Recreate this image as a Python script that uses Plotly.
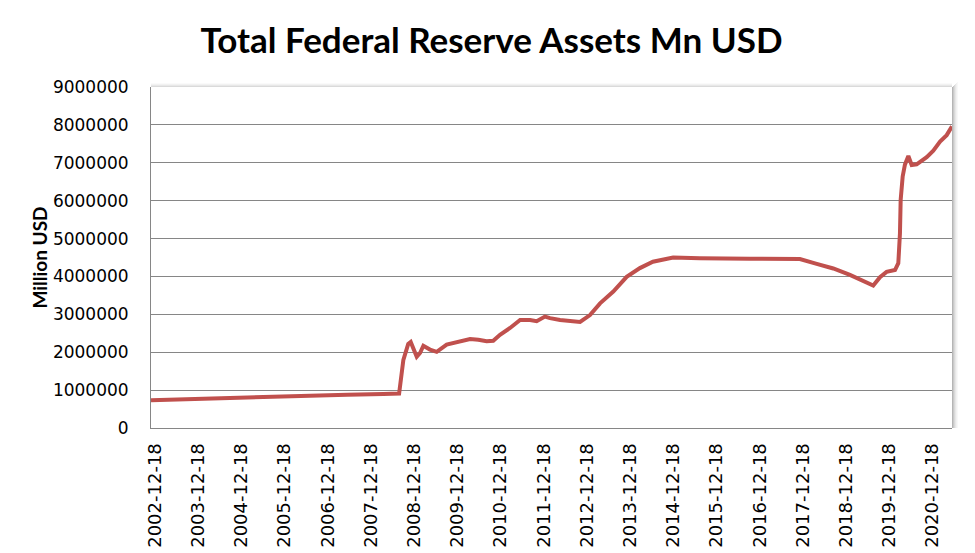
import plotly.graph_objects as go

# Weekly total assets of the Federal Reserve (USD millions)
dates = [
    "2002-11-14", "2003-08-01", "2004-10-01", "2005-12-01", "2006-09-01",
    "2007-06-01", "2008-04-01", "2008-08-12", "2008-09-17", "2008-10-28",
    "2008-11-18", "2009-01-08", "2009-02-05", "2009-03-05", "2009-04-30",
    "2009-06-26", "2009-09-18", "2009-12-12", "2010-04-04", "2010-06-13",
    "2010-08-22", "2010-10-17", "2010-12-13", "2011-03-08", "2011-06-01",
    "2011-08-24", "2011-10-19", "2011-12-28", "2012-02-09", "2012-05-04",
    "2012-07-27", "2012-10-20", "2013-01-12", "2013-04-07", "2013-07-28",
    "2013-11-18", "2014-03-10", "2014-06-28", "2014-12-16", "2015-07-30",
    "2016-09-26", "2017-11-22", "2018-04-13", "2018-08-31", "2019-01-19",
    "2019-06-10", "2019-08-04", "2019-09-30", "2019-11-25", "2020-02-04",
    "2020-03-03", "2020-03-17", "2020-03-23", "2020-04-09", "2020-04-28",
    "2020-05-27", "2020-06-24", "2020-08-05", "2020-10-29", "2020-12-24",
    "2021-01-22", "2021-02-19", "2021-04-16", "2021-05-31",
]
total_assets = [
    735000, 760000, 800000, 830000, 855000,
    875000, 895000, 910000, 1800000, 2220000,
    2270000, 1880000, 1980000, 2170000, 2070000,
    2010000, 2200000, 2260000, 2350000, 2330000,
    2290000, 2300000, 2460000, 2640000, 2850000,
    2850000, 2820000, 2940000, 2900000, 2850000,
    2820000, 2800000, 2980000, 3290000, 3600000,
    3990000, 4220000, 4390000, 4500000, 4480000,
    4470000, 4460000, 4330000, 4210000, 4040000,
    3840000, 3760000, 3980000, 4120000, 4170000,
    4350000, 5140000, 6020000, 6640000, 6950000,
    7180000, 6940000, 6960000, 7150000, 7320000,
    7430000, 7560000, 7730000, 7960000,
]

tick_dates = [f"{y}-12-18" for y in range(2002, 2021)]
tick_labels = [f"{y}-12-18" for y in range(2002, 2021)]
y_ticks = [0, 1000000, 2000000, 3000000, 4000000, 5000000, 6000000, 7000000, 8000000, 9000000]

title_text = "Total Federal Reserve Assets Mn USD"
y_title = "Million USD"

fig = go.Figure()
fig.add_trace(go.Scatter(
    x=dates, y=total_assets, mode="lines",
    line=dict(color="#C0504D", width=4),
    hoverinfo="x+y", showlegend=False,
))

# plot-area shadow on top and right edges
shapes = []
for i, op in enumerate([0.55, 0.4, 0.28, 0.18, 0.1, 0.05]):
    shapes.append(dict(type="rect", xref="paper", yref="paper",
                       x0=1.0 + i * 0.00125, x1=1.0 + (i + 1) * 0.00125,
                       y0=0.0, y1=1.0 + i * 0.0029,
                       fillcolor=f"rgba(120,120,120,{op})", line=dict(width=0), layer="below"))
for i, op in enumerate([0.35, 0.22, 0.12, 0.05]):
    shapes.append(dict(type="rect", xref="paper", yref="paper",
                       x0=0.0, x1=1.0,
                       y0=1.0 + i * 0.0029, y1=1.0 + (i + 1) * 0.0029,
                       fillcolor=f"rgba(150,150,150,{op})", line=dict(width=0), layer="below"))

# page body has an 8px margin, so the figure is sized to fill the rest of the window
fig.update_layout(
    width=967, height=545,
    paper_bgcolor="white", plot_bgcolor="white",
    margin=dict(l=143, r=23, t=79, b=125, autoexpand=False),
    title=dict(text=f"<b>{title_text}</b>", x=0.5, xref="container", xanchor="center",
               y=0.940, yref="container", yanchor="middle",
               font=dict(family="Lato", size=35, color="black")),
    shapes=shapes,
)

fig.update_xaxes(
    type="date", range=["2002-11-14", "2021-05-31"],
    tickmode="array", tickvals=tick_dates, ticktext=tick_labels,
    tickangle=-90, tickfont=dict(family="DejaVu Sans", size=18, color="black"),
    ticks="outside", ticklen=7, tickcolor="rgba(0,0,0,0)",
    showgrid=False, showline=True, linecolor="#868686", linewidth=1,
    zeroline=False, automargin=False,
)
fig.update_yaxes(
    range=[0, 9000000], tickmode="array", tickvals=y_ticks,
    ticktext=[str(v) for v in y_ticks],
    tickfont=dict(family="DejaVu Sans", size=17, color="black"),
    ticks="outside", ticklen=18, tickcolor="rgba(0,0,0,0)",
    showgrid=True, gridcolor="#868686", gridwidth=1,
    showline=True, linecolor="#868686", linewidth=1, zeroline=False,
    automargin=False,
    title=dict(text=f"<b>{y_title}</b>", standoff=0,
               font=dict(family="Lato", size=19, color="black")),
)

fig.write_html("out.html")
